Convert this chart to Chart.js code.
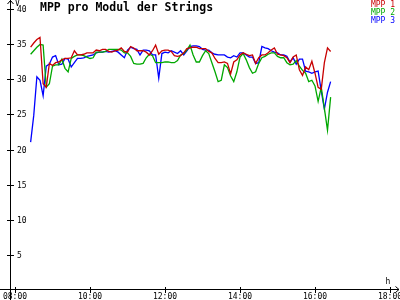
<!DOCTYPE html>
<html><head><meta charset="utf-8">
<script src="https://cdn.jsdelivr.net/npm/chart.js@4/dist/chart.umd.min.js"></script>
<style>html,body{margin:0;padding:0;background:#fff}canvas{display:block}</style>
</head><body>
<canvas id="c" width="400" height="300"></canvas>
<script>
const times = ["08:25","08:30","08:35","08:40","08:45","08:50","08:55","09:00","09:05","09:10",
"09:15","09:20","09:25","09:30","09:35","09:40","09:45","09:50","09:55","10:00",
"10:05","10:10","10:15","10:20","10:25","10:30","10:35","10:40","10:45","10:50",
"10:55","11:00","11:05","11:10","11:15","11:20","11:25","11:30","11:35","11:40",
"11:45","11:50","11:55","12:00","12:05","12:10","12:15","12:20","12:25","12:30",
"12:35","12:40","12:45","12:50","12:55","13:00","13:05","13:10","13:15","13:20",
"13:25","13:30","13:35","13:40","13:45","13:50","13:55","14:00","14:05","14:10",
"14:15","14:20","14:25","14:30","14:35","14:40","14:45","14:50","14:55","15:00",
"15:05","15:10","15:15","15:20","15:25","15:30","15:35","15:40","15:45","15:50",
"15:55","16:00","16:05","16:10","16:15","16:20","16:25"];

const mpp1 = [34.7,35.3,35.8,36.1,29.5,29.0,32.4,32.1,32.5,32.6,
32.9,33.1,33.1,33.2,34.2,33.6,33.6,33.7,33.9,33.9,
33.9,34.3,34.2,34.4,34.4,34.1,34.0,34.2,34.3,34.6,
34.1,34.0,34.8,34.6,34.2,34.2,34.2,34.0,33.6,34.2,
35.0,33.7,34.2,34.3,34.3,34.1,33.5,33.4,33.5,33.9,
34.5,34.6,34.7,34.7,34.5,34.5,34.5,34.1,33.9,33.1,
32.5,32.5,32.6,32.4,30.9,32.6,32.9,33.6,33.9,33.7,
33.5,33.6,32.4,33.2,33.6,33.6,33.9,34.3,34.6,33.7,
33.6,33.5,33.2,32.5,33.3,33.6,31.5,30.7,31.9,31.5,
32.7,31.0,29.0,28.7,32.5,34.6,34.1];

const mpp2 = [33.7,34.2,34.7,35.1,35.0,29.0,29.5,32.0,32.2,32.2,
33.0,31.7,31.2,33.1,33.4,33.6,33.6,33.5,33.3,33.1,
33.2,34.0,34.0,34.0,34.1,34.4,34.4,34.4,34.4,34.3,
33.9,33.9,33.4,32.4,32.3,32.3,32.4,33.2,33.7,33.5,
32.5,32.5,32.5,32.6,32.6,32.5,32.5,32.8,33.6,33.8,
34.3,35.0,33.6,32.6,32.6,33.5,34.2,33.8,32.5,31.2,
29.8,30.0,32.2,31.8,30.6,29.8,31.2,33.3,33.8,32.9,
31.8,31.0,31.2,32.4,33.2,33.4,33.7,33.9,33.9,33.4,
33.2,33.2,32.5,32.2,32.3,32.8,32.0,31.4,31.0,29.8,
30.0,29.2,27.0,29.0,26.0,22.9,27.6];

const mpp3 = [21.2,25.0,30.5,30.0,27.8,32.0,32.3,33.3,33.5,32.2,
32.3,33.1,33.0,31.9,32.5,33.1,33.1,33.2,33.4,33.5,
33.6,33.9,34.0,34.0,34.1,34.0,34.1,34.2,34.0,33.6,
33.2,34.3,34.7,34.5,34.4,33.6,34.3,34.3,34.2,33.6,
33.6,30.3,33.8,34.0,33.9,34.2,34.0,33.8,34.2,33.6,
34.2,34.8,34.9,34.9,34.8,34.4,34.3,34.3,33.9,33.7,
33.6,33.6,33.6,33.3,33.2,33.5,33.3,33.9,33.9,33.6,
33.3,33.3,32.4,32.5,34.8,34.6,34.5,34.2,34.0,33.9,
33.6,33.6,33.4,32.6,33.2,32.3,33.0,33.0,31.3,31.2,
31.0,31.2,31.3,28.5,25.9,28.3,29.8];

const xTicks = [8,10,12,14,16,18];
const yTicks = [5,10,15,20,25,30,35,40];
const titleText = 'MPP pro Modul der Strings';
const seriesNames = ['MPP 1','MPP 2','MPP 3'];
const colors = ['#c80000','#00a800','#0000ff'];
const yUnit = 'V';
const xUnit = 'h';

const MONO = '"DejaVu Sans Mono", "Liberation Mono", monospace';
function toHours(s){const p=s.split(':');return Number(p[0])+Number(p[1])/60;}
function pts(arr){return arr.map((v,i)=>({x:toHours(times[i]),y:v}));}
function fmtHour(v){return (v<10?'0':'')+v+':00';}

const deco = {
  id:'deco',
  afterDraw(chart){
    const ctx=chart.ctx, xs=chart.scales.x, ys=chart.scales.y;
    ctx.save();
    ctx.strokeStyle='#000'; ctx.lineWidth=1;
    const ax=10.5, ay=289.5;
    ctx.beginPath();
    ctx.moveTo(ax,0); ctx.lineTo(ax,300);
    ctx.moveTo(0,ay); ctx.lineTo(399,ay);
    ctx.moveTo(7.5,4); ctx.lineTo(ax,0.5); ctx.lineTo(13.5,4);
    ctx.moveTo(395.5,286.5); ctx.lineTo(399,ay); ctx.lineTo(395.5,292.5);
    yTicks.forEach(v=>{const p=Math.round(ys.getPixelForValue(v))-0.5; ctx.moveTo(7,p); ctx.lineTo(14,p);});
    xTicks.forEach(v=>{const p=Math.round(xs.getPixelForValue(v))+0.5; ctx.moveTo(p,287); ctx.lineTo(p,293);});
    ctx.stroke();
    ctx.fillStyle='#000';
    ctx.textBaseline='middle';
    ctx.textAlign='left';
    ctx.font='8px '+MONO;
    ctx.fillText(yUnit,15,3.5);
    ctx.fillText(xUnit,385.5,281.5);
    ctx.font='bold 11.5px '+MONO;
    ctx.fillText(titleText,40,8);
    ctx.font='8px '+MONO;
    ctx.textAlign='right';
    seriesNames.forEach((n,i)=>{ctx.fillStyle=colors[i]; ctx.fillText(n,395,4.5+8*i);});
    ctx.restore();
  }
};

new Chart(document.getElementById('c'),{
  type:'line',
  data:{datasets:[mpp1,mpp2,mpp3].map((a,i)=>({
    label:seriesNames[i], data:pts(a), borderColor:colors[i], backgroundColor:colors[i],
    borderWidth:1.3, pointRadius:0, tension:0, fill:false
  }))},
  options:{
    responsive:false, animation:false, devicePixelRatio:1,
    layout:{padding:{left:0,right:3,top:10,bottom:0}},
    plugins:{legend:{display:false},title:{display:false},tooltip:{enabled:false}},
    scales:{
      x:{type:'linear',position:'bottom',min:7.8933,max:18.1867,
        grid:{display:false,drawTicks:false},border:{display:false},
        afterBuildTicks:s=>{s.ticks=xTicks.map(v=>({value:v}));},
        afterFit:s=>{s.height=9;s.paddingLeft=0;s.paddingRight=0;},
        ticks:{autoSkip:false,maxRotation:0,padding:1,color:'#000',font:{family:MONO,size:8},callback:v=>fmtHour(v)}},
      y:{type:'linear',position:'left',min:0,max:40,
        grid:{display:false,drawTicks:false},border:{display:false},
        afterBuildTicks:s=>{s.ticks=yTicks.map(v=>({value:v}));},
        afterFit:s=>{s.width=11;s.paddingTop=0;s.paddingBottom=0;},
        ticks:{mirror:true,padding:6,color:'#000',font:{family:MONO,size:8}}}
    }
  },
  plugins:[deco]
});
</script>
</body></html>
